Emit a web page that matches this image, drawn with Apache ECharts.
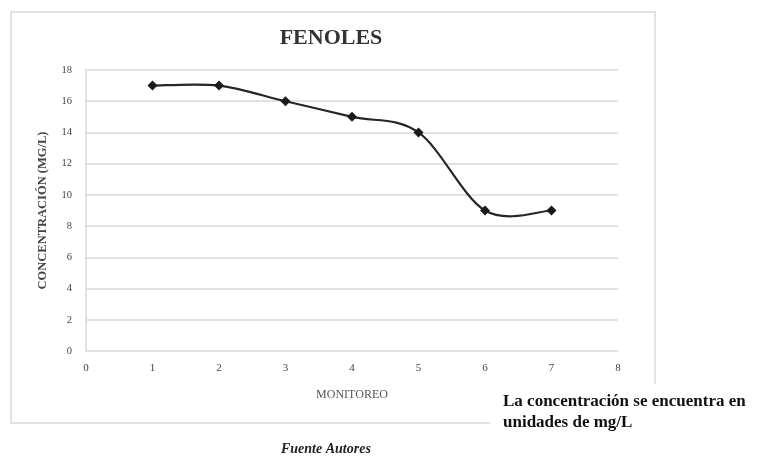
<!DOCTYPE html>
<html>
<head>
<meta charset="utf-8">
<script src="https://cdn.jsdelivr.net/npm/echarts@6/dist/echarts.min.js"></script>
<style>
  html, body { margin: 0; padding: 0; background: #fff; }
  #chart { width: 757px; height: 461px; }
</style>
</head>
<body>
<div id="chart"></div>
<script>
// datos del grafico
var monitoreo = [1, 2, 3, 4, 5, 6, 7];
var concentracion = [17, 17, 16, 15, 14, 9, 9];
var tituloTxt = 'FENOLES';
var ejeX = 'MONITOREO';
var ejeY = 'CONCENTRACIÓN (MG/L)';
var notaTxt = 'La concentración se encuentra en\nunidades de mg/L';
var fuenteTxt = 'Fuente Autores';

var serif = '"Liberation Serif", "DejaVu Serif", serif';
var chart = echarts.init(document.getElementById('chart'));

var puntos = monitoreo.map(function (m, i) {
    return [m, concentracion[i]];
});

// curva suavizada tipo Excel (catmull-rom), un tramo por punto
function renderTramo(params, api) {
    var i = params.dataIndex;
    var n = puntos.length;
    if (i >= n - 1) return null;
    var p = function (k) {
        k = Math.max(0, Math.min(n - 1, k));
        return api.coord(puntos[k]);
    };
    var p0 = p(i - 1), p1 = p(i), p2 = p(i + 1), p3 = p(i + 2);
    return {
        type: 'bezierCurve',
        shape: {
            x1: p1[0], y1: p1[1],
            x2: p2[0], y2: p2[1],
            cpx1: p1[0] + (p2[0] - p0[0]) / 6,
            cpy1: p1[1] + (p2[1] - p0[1]) / 6,
            cpx2: p2[0] - (p3[0] - p1[0]) / 6,
            cpy2: p2[1] - (p3[1] - p1[1]) / 6
        },
        style: { fill: 'none', stroke: '#262626', lineWidth: 2.2 }
    };
}

var option = {
    backgroundColor: '#fff',
    animation: false,
    title: {
        text: tituloTxt,
        left: 326,
        top: 22,
        textAlign: 'center',
        textStyle: { fontFamily: serif, fontSize: 22, fontWeight: 'bold', color: '#333' }
    },
    grid: { left: 86, right: 139, top: 70, bottom: 110 },
    xAxis: {
        type: 'value',
        min: 0,
        max: 8,
        interval: 1,
        name: ejeX,
        nameLocation: 'middle',
        nameGap: 38,
        nameTextStyle: { fontFamily: serif, fontSize: 12, color: '#555' },
        axisLine: { show: false },
        axisTick: { show: false },
        splitLine: { show: false },
        axisLabel: { fontFamily: serif, fontSize: 11, color: '#444', margin: 12 }
    },
    yAxis: {
        type: 'value',
        min: 0,
        max: 18,
        interval: 2,
        name: ejeY,
        nameLocation: 'middle',
        nameGap: 37,
        nameTextStyle: { fontFamily: serif, fontSize: 12.5, fontWeight: 'bold', color: '#444' },
        axisLine: { show: true, lineStyle: { color: '#d9d9d9', width: 1.5 } },
        axisTick: { show: false },
        splitLine: { show: true, lineStyle: { color: '#d9d9d9', width: 1.5 } },
        axisLabel: { fontFamily: serif, fontSize: 10.5, color: '#444', margin: 14 }
    },
    series: [
        {
            type: 'custom',
            data: puntos,
            renderItem: renderTramo,
            z: 2
        },
        {
            type: 'scatter',
            data: puntos,
            symbol: 'diamond',
            symbolSize: 10,
            itemStyle: { color: '#1a1a1a', opacity: 1 },
            z: 3
        }
    ],
    graphic: [
        {
            type: 'rect',
            shape: { x: 11, y: 12, width: 644, height: 411 },
            style: { fill: 'none', stroke: '#d9d9d9', lineWidth: 1.5 },
            z: -1
        },
        {
            type: 'rect',
            shape: { x: 490, y: 384, width: 267, height: 77 },
            style: { fill: '#fff' }
        },
        {
            type: 'text',
            left: 503,
            top: 391,
            style: {
                text: notaTxt,
                fontFamily: serif,
                fontSize: 17,
                fontWeight: 'bold',
                lineHeight: 21,
                fill: '#111'
            }
        },
        {
            type: 'text',
            left: 281,
            top: 442,
            style: {
                text: fuenteTxt,
                fontFamily: serif,
                fontSize: 14,
                fontWeight: 'bold',
                fontStyle: 'italic',
                fill: '#222'
            }
        }
    ]
};

chart.setOption(option);
</script>
</body>
</html>
